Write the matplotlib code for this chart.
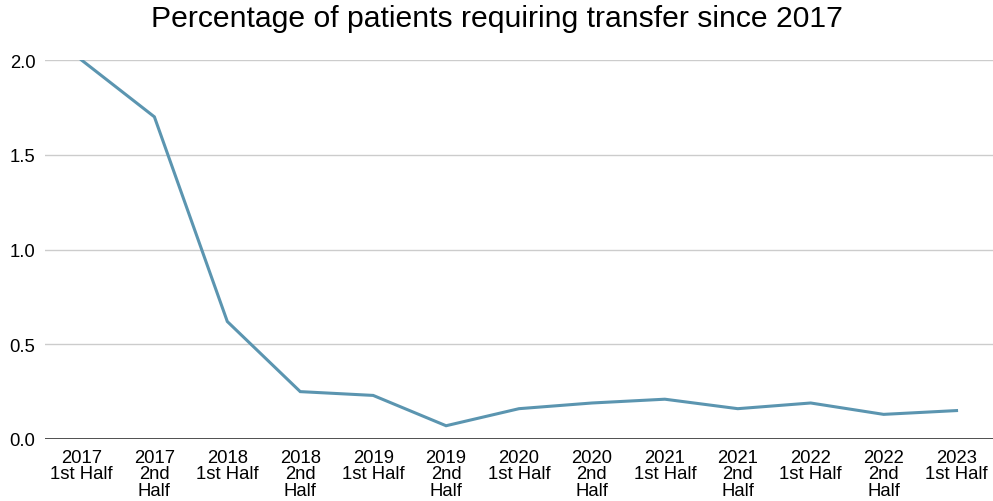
import matplotlib.pyplot as plt

plt.rcParams['font.family'] = ['Liberation Sans', 'DejaVu Sans']

periods = ['2017\n1st Half', '2017\n2nd\nHalf', '2018\n1st Half', '2018\n2nd\nHalf',
           '2019\n1st Half', '2019\n2nd\nHalf', '2020\n1st Half', '2020\n2nd\nHalf',
           '2021\n1st Half', '2021\n2nd\nHalf', '2022\n1st Half', '2022\n2nd\nHalf',
           '2023\n1st Half']
pct = [2.0, 1.70, 0.62, 0.25, 0.23, 0.07, 0.16, 0.19, 0.21, 0.16, 0.19, 0.13, 0.15]
yticks = [0.0, 0.5, 1.0, 1.5, 2.0]

fig = plt.figure(figsize=(9.93, 5.02), dpi=100)
ax = fig.add_axes([45/993, 1-440/502, 948/993, 379/502])

x = list(range(len(pct)))
ax.plot(x, pct, color='#5b95b0', lw=2.2, solid_joinstyle='miter', zorder=3)

ax.set_xlim(-0.5, len(pct)-0.5)
ax.set_ylim(0, 2.0)
ax.set_yticks(yticks)
ax.set_yticklabels([f'{v:.1f}' for v in yticks])
ax.set_xticks(x)
ax.set_xticklabels(periods, va='top', linespacing=0.98)
ax.grid(axis='y', color='#cccccc', lw=1)
ax.axhline(0, color='#333333', lw=1.2, zorder=2)
ax.set_axisbelow(True)
for s in ax.spines.values():
    s.set_visible(False)
ax.tick_params(length=0, labelsize=13.3, colors='black')
ax.tick_params(axis='y', pad=7)
ax.tick_params(axis='x', pad=7)

fig.suptitle('Percentage of patients requiring transfer since 2017', fontsize=21.7, y=0.99)

fig.savefig('out.png', dpi=100)
